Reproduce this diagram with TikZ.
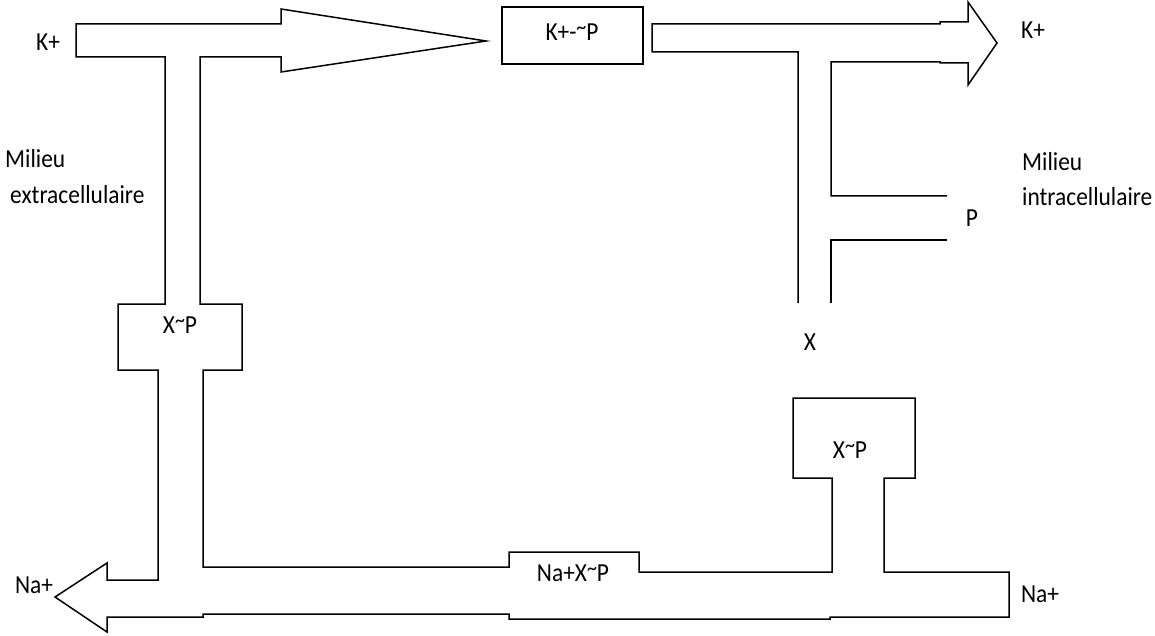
\documentclass[tikz,border=0pt]{standalone}
\usepackage{fontspec}
\setmainfont{Carlito}
\newcommand\hsq[1]{\scalebox{0.9}[1]{#1}}
\newcommand\tld{\raisebox{0.22em}{\scalebox{0.85}{\textasciitilde}}}
\begin{document}
\begin{tikzpicture}[x=1pt,y=-1pt,
  outline/.style={draw=black, line width=1.5pt, line join=miter},
  lbl/.style={inner sep=0pt, font=\fontsize{26}{30}\selectfont}]
\useasboundingbox (0,0) rectangle (1155,636);
% left channel: K+ inflow, X~P carrier, Na+ outflow
\draw[outline] (165,57) -- (76,57) -- (76,24) -- (281,24) -- (281,9) -- (486,41)
  -- (281,72) -- (281,57) -- (200,57) -- (200,304) -- (242,304) -- (242,370)
  -- (203,370) -- (203,567) -- (509,567) -- (509,552) -- (639,552) -- (639,572)
  -- (832,572) -- (832,478) -- (793,478) -- (793,398) -- (915,398) -- (915,478)
  -- (884,478) -- (884,572) -- (1009,572) -- (1009,617) -- (830,617) -- (830,619)
  -- (509,619) -- (509,614) -- (203,614) -- (203,617) -- (107,617) -- (107,632)
  -- (55,597) -- (107,563) -- (107,580) -- (158,580) -- (158,370) -- (118,370)
  -- (118,304) -- (165,304) -- cycle;
% K+-~P box
\node[outline, minimum width=141pt, minimum height=57pt, inner sep=0pt] (kp) at (572.5,35.5) {};
% right channel: K+ outflow, X + P
\draw[outline] (798,303) -- (798,52) -- (652,52) -- (652,24) -- (940,24) -- (940,22)
  -- (968,22) -- (968,2) -- (997,43) -- (968,85) -- (968,63) -- (940,63) -- (940,62)
  -- (831,62) -- (831,196) -- (947,196);
\draw[outline] (947,240) -- (831,240) -- (831,303);
% labels
\node[lbl] (kin) at (48,42) {\hsq{K+}};
\node[lbl] (kpt) at (572,32) {\hsq{K+-\tld P}};
\node[lbl] (kout) at (1033,30) {\hsq{K+}};
\node[lbl, anchor=west] (m1) at (5,159) {\hsq{Milieu}};
\node[lbl, anchor=west] (m2) at (10,195) {\hsq{extracellulaire}};
\node[lbl, anchor=west] (m3) at (1022,162) {\hsq{Milieu}};
\node[lbl, anchor=west] (m4) at (1022,197) {\hsq{intracellulaire}};
\node[lbl] (p) at (972,218) {\hsq{P}};
\node[lbl] (x) at (810,342) {\hsq{X}};
\node[lbl] (xp1) at (180,325) {\hsq{X\tld P}};
\node[lbl] (xp2) at (850,450) {\hsq{X\tld P}};
\node[lbl] (naxp) at (573,573) {\hsq{Na+X\tld P}};
\node[lbl] (naout) at (34,585) {\hsq{Na+}};
\node[lbl] (nain) at (1040,594) {\hsq{Na+}};
\end{tikzpicture}
\end{document}
